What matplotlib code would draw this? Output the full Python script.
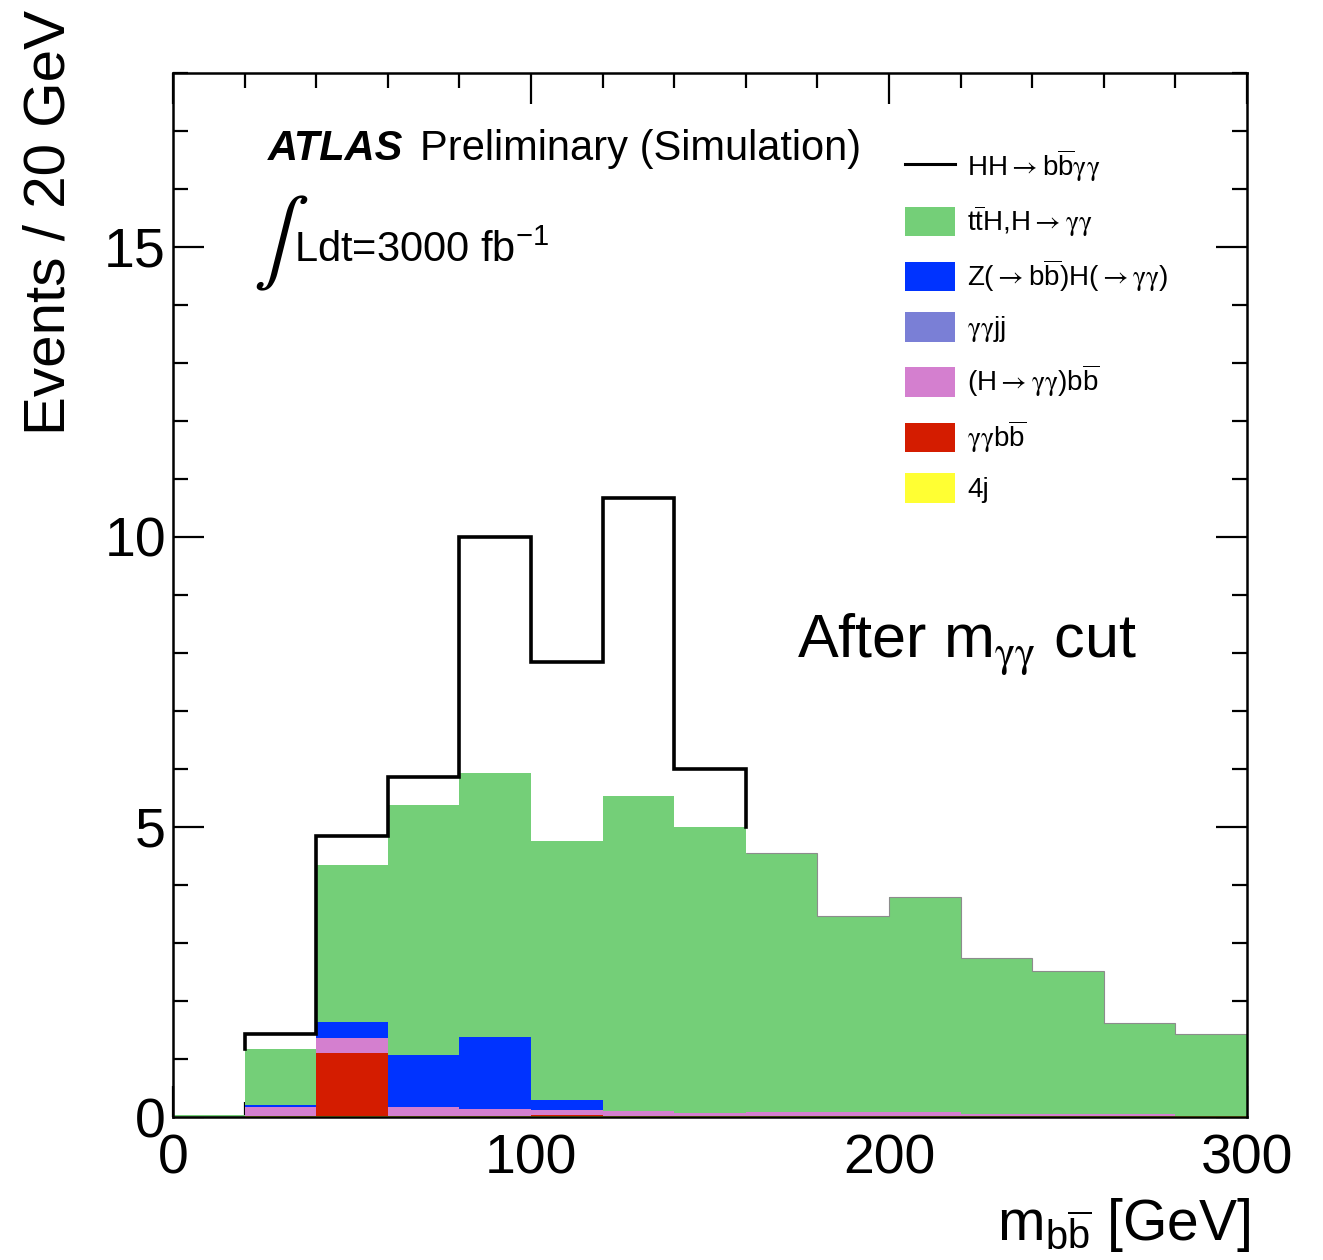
import matplotlib
matplotlib.use("Agg")
import matplotlib.pyplot as plt
from matplotlib.patches import Patch
from matplotlib.lines import Line2D
import numpy as np

plt.rcParams["font.family"] = ["Liberation Sans", "DejaVu Sans"]
plt.rcParams["mathtext.fontset"] = "custom"
plt.rcParams["mathtext.rm"] = "Liberation Sans"
plt.rcParams["mathtext.it"] = "Liberation Sans:italic"
plt.rcParams["mathtext.bf"] = "Liberation Sans:bold"
plt.rcParams["mathtext.sf"] = "STIXGeneral"

# m_bb bins, 20 GeV wide
bin_edges = [0, 20, 40, 60, 80, 100, 120, 140, 160, 180, 200, 220, 240, 260, 280, 300]

# per-bin contributions (events), stacked bottom -> top
bkg_4j = [0.0, 0.01, 0.01, 0.01, 0.01, 0.01, 0.01, 0.01, 0.01, 0.01, 0.01, 0.01, 0.01, 0.01, 0.01]
bkg_aabb = [0.0, 0.0, 1.10, 0.0, 0.0, 0.03, 0.01, 0.01, 0.01, 0.01, 0.01, 0.01, 0.01, 0.01, 0.005]
bkg_hbb = [0.0, 0.16, 0.26, 0.16, 0.12, 0.08, 0.08, 0.05, 0.06, 0.06, 0.07, 0.03, 0.03, 0.03, 0.01]
bkg_aajj = [0.0] * 15
bkg_zh = [0.0, 0.04, 0.26, 0.90, 1.25, 0.18, 0.0, 0.0, 0.0, 0.0, 0.0, 0.0, 0.0, 0.0, 0.0]
bkg_tth = [0.03, 0.97, 2.71, 4.31, 4.55, 4.46, 5.43, 4.93, 4.47, 3.39, 3.70, 2.69, 2.47, 1.57, 1.405]

# HH signal on top of the backgrounds
sig_hh = [0.0, 0.25, 0.50, 0.49, 4.07, 3.08, 5.14, 1.00, 0.0, 0.0, 0.0, 0.0, 0.0, 0.0, 0.0]

AR = r"$\mathsf{\rightarrow}$"
GG = r"$\mathsf{\gamma\gamma}$"
BB = r"b$\overline{\mathrm{b}}$"

stack = [
    (bkg_4j, "#ffff33", "4j"),
    (bkg_aabb, "#d41c00", GG + BB),
    (bkg_hbb, "#d47fcf", "(H" + AR + GG + ")" + BB),
    (bkg_aajj, "#7a7fd6", GG + "jj"),
    (bkg_zh, "#0033ff", "Z(" + AR + BB + ")H(" + AR + GG + ")"),
    (bkg_tth, "#74cf78", r"t$\overline{\mathrm{t}}$H,H" + AR + GG),
]

fig = plt.figure(figsize=(13.23, 12.6), dpi=100)
ax = fig.add_axes([173 / 1323, 1 - 1117 / 1260, 1074 / 1323, 1044 / 1260])

edges = np.array(bin_edges)
bottom = np.zeros(len(bin_edges) - 1)
for vals, col, lab in stack:
    top = bottom + np.array(vals)
    ax.stairs(top, edges, baseline=bottom, fill=True, color=col, lw=0, zorder=2)
    bottom = top
bkg_total = bottom
hh_total = bkg_total + np.array(sig_hh)

# signal outline only where the signal is present, closed down onto the stack
on = np.nonzero(np.array(sig_hh) > 0)[0]
i0, i1 = on[0], on[-1]
xs = np.repeat(edges[i0:i1 + 2], 2)
ys = np.concatenate([[bkg_total[i0]], np.repeat(hh_total[i0:i1 + 1], 2), [bkg_total[i1]]])
ax.plot(xs, ys, color="k", lw=2.6, zorder=3, solid_joinstyle="miter")
# faint outline of the total where it sits on the stack
ax.stairs(hh_total[i1 + 1:], edges[i1 + 1:], baseline=None, color="#8c8c8c", lw=0.8, zorder=3)

ax.set_xlim(0, 300)
ax.set_ylim(0, 18)
ax.set_xticks([0, 100, 200, 300])
ax.set_xticks(np.arange(0, 301, 20), minor=True)
ax.set_yticks([0, 5, 10, 15])
ax.set_yticks(np.arange(0, 19, 1), minor=True)
ax.tick_params(which="both", direction="in", top=True, right=True, width=1.6, labelsize=40)
ax.tick_params(which="major", length=22)
ax.tick_params(which="minor", length=11)
ax.tick_params(axis="x", which="major", pad=12)
ax.tick_params(axis="y", which="major", pad=5)
for sp in ax.spines.values():
    sp.set_linewidth(1.8)
    sp.set_zorder(5)

fig.text(50 / 1323, 1 - 10 / 1260, "Events / 20 GeV", rotation=90, ha="center", va="top", fontsize=42)
fig.text(1250 / 1323, 1 - 1240 / 1260, r"m$_{\mathrm{b\overline{b}}}$ [GeV]", ha="right", va="baseline", fontsize=41)

ax.text(0.0885, 0.9167, "ATLAS", transform=ax.transAxes, fontsize=30, fontweight="bold", fontstyle="italic", va="baseline")
ax.text(0.230, 0.9167, "Preliminary (Simulation)", transform=ax.transAxes, fontsize=30, va="baseline")
ax.text(0.0930, 0.837, "∫", transform=ax.transAxes, fontsize=60, ha="center", va="center",
        family=["STIXGeneral", "DejaVu Sans"])
ax.text(0.113, 0.819, r"Ldt=3000 fb$^{\mathregular{-1}}$", transform=ax.transAxes, fontsize=30, va="baseline")
ax.text(0.581, 0.4406, r"After m$_{\mathsf{\gamma\gamma}}$ cut", transform=ax.transAxes, fontsize=44, va="baseline")

handles = [Line2D([], [], color="k", lw=2.2)]
labels = ["HH" + AR + BB + GG]
for vals, col, lab in stack[::-1]:
    handles.append(Patch(facecolor=col, edgecolor="none"))
    labels.append(lab)
ax.legend(handles, labels, loc="upper left", bbox_to_anchor=(0.6816, 0.9286), frameon=False,
          fontsize=20, borderpad=0, borderaxespad=0, handlelength=1.8, handleheight=1.26,
          labelspacing=0.66, handletextpad=0.43)

fig.savefig("out.png", dpi=100)
